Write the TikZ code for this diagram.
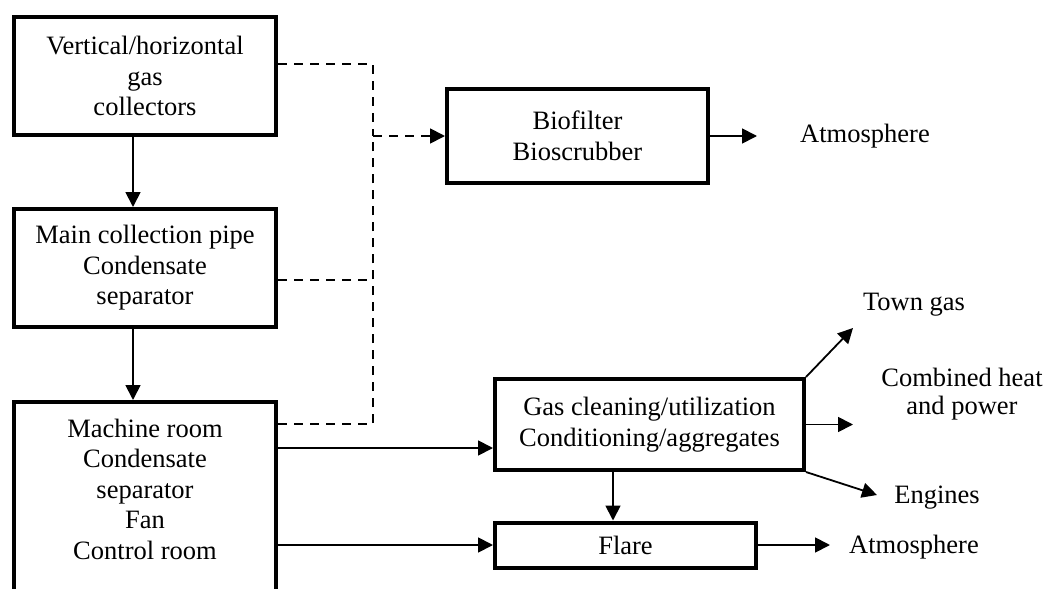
\documentclass[tikz,border=0pt]{standalone}
\usepackage{fontspec}
\setmainfont{Liberation Serif}
\usetikzlibrary{arrows.meta}
\begin{document}
\begin{tikzpicture}[x=1pt,y=-1pt,
  every node/.style={font=\fontsize{26.5}{30.5}\selectfont, align=center, inner sep=0pt},
  unit/.style={draw, line width=4pt, outer sep=2pt, rectangle},
  flow/.style={line width=1.8pt, -{Triangle[length=15pt,width=15pt]}},
  link/.style={line width=1.8pt, dash pattern=on 9pt off 7pt},
  vent/.style={link, -{Triangle[length=15pt,width=15pt]}}
]
\useasboundingbox (0,0) rectangle (1045,589);

% process chain on the left
\node[unit, minimum width=262pt, minimum height=118pt] (collect) at (145,76)
  {Vertical/horizontal\\gas\\collectors};
\node[unit, minimum width=262pt, minimum height=118pt] (pipe) at (145,268)
  {Main collection pipe\\Condensate\\separator};
\node[unit, minimum width=262pt, minimum height=224pt, anchor=north] (machine) at (145,400) {};
\node (machinetext) at (145,489)
  {Machine room\\Condensate\\separator\\Fan\\Control room};

% treatment units
\node[unit, minimum width=261pt, minimum height=94pt] (bio) at (577.5,136)
  {Biofilter\\Bioscrubber};
\node[unit, minimum width=309pt, minimum height=91pt] (gas) at (649.5,424.5)
  {Gas cleaning/utilization\\Conditioning/aggregates};
\node[unit, minimum width=261pt, minimum height=45pt] (flare) at (625.5,545)
  {Flare};

% outlets
\node (atmtop) at (865,136) {Atmosphere};
\node (town) at (914,305) {Town gas};
\node[font=\fontsize{26.5}{28}\selectfont] (chp) at (962,394) {Combined heat\\and power};
\node (engines) at (937,498) {Engines};
\node (atmbot) at (914,547) {Atmosphere};

\coordinate (bus) at (373,136);
\coordinate (spine) at (133,0);
\coordinate (drop) at (613,0);
\coordinate (toatmtop) at (757,136);
\coordinate (totown) at (853,328);
\coordinate (tochp) at (853,424.5);
\coordinate (toengines) at (877,495);
\coordinate (toatmbot) at (830,545);
\coordinate (machinegas) at (278,448);

% main gas path
\draw[flow] (collect.south -| spine) -- (pipe.north -| spine);
\draw[flow] (pipe.south -| spine) -- (machine.north -| spine);
\draw[flow] (machinegas) -- (machinegas -| gas.west);
\draw[flow] (flare.west -| machine.east) -- (flare.west);
\draw[flow] (gas.south -| drop) -- (flare.north -| drop);

% vent gas to biological treatment
\draw[link] ([yshift=12pt]collect.east) -| (bus);
\draw[link] ([yshift=-12pt]pipe.east) -| (bus);
\draw[link] ([yshift=-24pt]machine.north east) -| (bus);
\draw[vent] (bus) -- (bio.west);

% discharges
\draw[flow] (bio.east) -- (toatmtop);
\draw[flow] (gas.north east) -- (totown);
\draw[flow] (gas.east) -- (tochp);
\draw[flow] (gas.south east) -- (toengines);
\draw[flow] (flare.east) -- (toatmbot);
\end{tikzpicture}
\end{document}
